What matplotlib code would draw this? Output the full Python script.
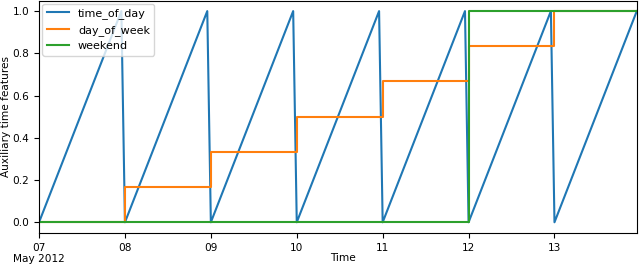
import matplotlib
matplotlib.use('Agg')
import matplotlib.pyplot as plt
import pandas as pd

# vertices of the hourly series
tod_times = ['2012-05-07 00:00', '2012-05-07 23:00', '2012-05-08 00:00', '2012-05-08 23:00',
             '2012-05-09 00:00', '2012-05-09 23:00', '2012-05-10 00:00', '2012-05-10 23:00',
             '2012-05-11 00:00', '2012-05-11 23:00', '2012-05-12 00:00', '2012-05-12 23:00',
             '2012-05-13 00:00', '2012-05-13 23:00']
time_of_day = [0, 1, 0, 1, 0, 1, 0, 1, 0, 1, 0, 1, 0, 1]

day_times = ['2012-05-07 00:00', '2012-05-08 00:00', '2012-05-09 00:00', '2012-05-10 00:00',
             '2012-05-11 00:00', '2012-05-12 00:00', '2012-05-13 00:00', '2012-05-13 23:00']
day_of_week = [0.0, 0.1667, 0.3333, 0.5, 0.6667, 0.8333, 1.0, 1.0]
weekend = [0, 0, 0, 0, 0, 1, 1, 1]

tick_days = ['2012-05-07', '2012-05-08', '2012-05-09', '2012-05-10',
             '2012-05-11', '2012-05-12', '2012-05-13']
tick_labels = ['07\nMay 2012', '08', '09', '10', '11', '12', '13']

plt.rcParams['font.family'] = 'DejaVu Sans'
plt.rcParams['font.size'] = 7.6

fig, ax = plt.subplots(figsize=(6.4, 2.64), dpi=100)
fig.subplots_adjust(left=0.061, right=0.995, top=0.998, bottom=0.118)

t1 = pd.to_datetime(tod_times)
t2 = pd.to_datetime(day_times)
ax.plot(t1, time_of_day, label='time_of_day')
ax.plot(t2, day_of_week, drawstyle='steps-post', label='day_of_week')
ax.plot(t2, weekend, drawstyle='steps-post', label='weekend')

ax.set_xlim(t1[0], t1[-1])
ax.set_xticks(pd.to_datetime(tick_days))
ax.set_xticklabels(tick_labels)
ax.set_ylabel('Auxiliary time features', labelpad=1)
ax.set_xlabel('Time')
ax.xaxis.set_label_coords(0.508, -0.087)
ax.legend(loc='upper left', fontsize=8, borderaxespad=0.3)

fig.savefig('out.png', dpi=100)
